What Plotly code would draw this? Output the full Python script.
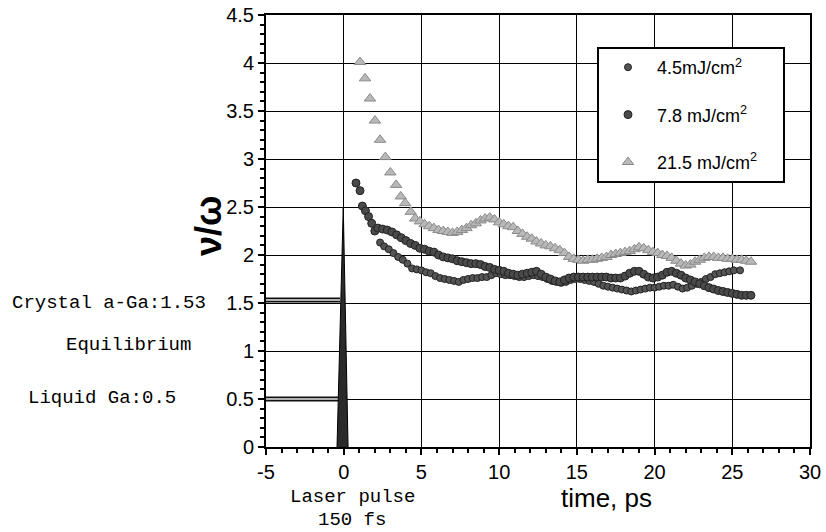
import plotly.graph_objects as go

# ---------------- data ----------------
t_215 = [1.05, 1.37, 1.69, 2.01, 2.34, 2.68, 3.00, 3.37, 3.67, 3.95, 4.31, 4.6, 4.9, 5.2, 5.5, 5.8,
         6.1, 6.4, 6.7, 7.0, 7.3, 7.6, 7.9, 8.2, 8.5, 8.8, 9.1, 9.4, 9.7, 10.0, 10.3, 10.6, 10.9,
         11.2, 11.5, 11.8, 12.1, 12.4, 12.7, 13.0, 13.3, 13.6, 13.9, 14.2, 14.5, 14.8, 15.1, 15.4,
         15.7, 16.0, 16.3, 16.6, 16.9, 17.2, 17.5, 17.8, 18.1, 18.4, 18.7, 19.0, 19.3, 19.6, 19.9,
         20.2, 20.5, 20.8, 21.1, 21.4, 21.7, 22.0, 22.3, 22.6, 22.9, 23.2, 23.5, 23.8, 24.1, 24.4,
         24.7, 25.0, 25.3, 25.6, 25.9, 26.2]
v_215 = [4.01, 3.84, 3.63, 3.40, 3.20, 3.02, 2.86, 2.73, 2.61, 2.54, 2.45, 2.38, 2.35, 2.32, 2.30, 2.28,
         2.26, 2.25, 2.24, 2.23, 2.24, 2.26, 2.28, 2.31, 2.33, 2.36, 2.38, 2.39, 2.37, 2.34, 2.32, 2.30, 2.29,
         2.25, 2.22, 2.19, 2.17, 2.14, 2.12, 2.10, 2.09, 2.07, 2.05, 2.02, 1.98, 1.96, 1.95, 1.94,
         1.95, 1.95, 1.96, 1.97, 1.98, 2.00, 2.01, 2.02, 2.03, 2.04, 2.06, 2.08, 2.07, 2.05, 2.03,
         2.02, 2.00, 1.99, 1.97, 1.94, 1.91, 1.89, 1.90, 1.93, 1.95, 1.97, 1.98, 1.98, 1.97, 1.97,
         1.96, 1.96, 1.95, 1.95, 1.94, 1.93]

t_78 = [0.79, 1.05, 1.20, 1.40, 1.60, 1.80, 2.00, 2.2, 2.5, 2.8, 3.1, 3.4, 3.7, 4.0, 4.3, 4.6, 4.9,
        5.2, 5.5, 5.8, 6.1, 6.4, 6.7, 7.0, 7.3, 7.6, 7.9, 8.2, 8.5, 8.8, 9.1, 9.4, 9.7, 10.0, 10.3,
        10.6, 10.9, 11.2, 11.5, 11.8, 12.1, 12.4, 12.7, 13.0, 13.3, 13.6, 13.9, 14.2, 14.5, 14.8,
        15.1, 15.4, 15.7, 16.0, 16.3, 16.6, 16.9, 17.2, 17.5, 17.8, 18.1, 18.4, 18.7, 19.0, 19.3,
        19.6, 19.9, 20.2, 20.5, 20.8, 21.1, 21.4, 21.7, 22.0, 22.3, 22.6, 22.9, 23.2, 23.5, 23.8,
        24.1, 24.4, 24.7, 25.0, 25.3, 25.6, 25.9, 26.2]
v_78 = [2.75, 2.67, 2.51, 2.46, 2.40, 2.33, 2.25, 2.28, 2.27, 2.26, 2.24, 2.21, 2.18, 2.15, 2.12, 2.10, 2.07,
        2.06, 2.04, 2.03, 2.00, 1.98, 1.97, 1.96, 1.94, 1.93, 1.92, 1.91, 1.91, 1.90, 1.88, 1.87, 1.85, 1.84, 1.83,
        1.81, 1.80, 1.79, 1.80, 1.81, 1.82, 1.83, 1.80, 1.77, 1.75, 1.73, 1.72, 1.74, 1.76, 1.77,
        1.77, 1.77, 1.77, 1.77, 1.77, 1.77, 1.77, 1.76, 1.76, 1.76, 1.78, 1.81, 1.83, 1.83, 1.80,
        1.77, 1.76, 1.77, 1.79, 1.82, 1.83, 1.81, 1.79, 1.76, 1.74, 1.72, 1.70, 1.68, 1.66, 1.645,
        1.63, 1.62, 1.61, 1.60, 1.59, 1.58, 1.58, 1.58]

t_45 = [2.34, 2.6, 2.9, 3.2, 3.5, 3.8, 4.1, 4.4, 4.7, 5.0, 5.3, 5.6, 5.9, 6.2, 6.5, 6.8, 7.1, 7.4,
        7.7, 8.0, 8.3, 8.6, 8.9, 9.2, 9.5, 9.8, 10.1, 10.4, 10.7, 11.0, 11.3, 11.6, 11.9, 12.2, 12.5,
        12.8, 13.1, 13.4, 13.7, 14.0, 14.3, 14.6, 14.9, 15.2, 15.5, 15.8, 16.1, 16.4, 16.7, 17.0,
        17.3, 17.6, 17.9, 18.2, 18.5, 18.8, 19.1, 19.4, 19.7, 20.0, 20.3, 20.6, 20.9, 21.2, 21.5,
        21.8, 22.1, 22.4, 22.7, 23.0, 23.3, 23.6, 23.9, 24.2, 24.5, 24.8, 25.1, 25.5]
v_45 = [2.13, 2.09, 2.06, 2.02, 1.98, 1.95, 1.91, 1.86, 1.85, 1.84, 1.82, 1.81, 1.78, 1.76, 1.75, 1.74, 1.73, 1.72,
        1.74, 1.75, 1.76, 1.76, 1.77, 1.77, 1.79, 1.81, 1.80, 1.79, 1.79, 1.78, 1.77, 1.77, 1.78, 1.79, 1.78,
        1.77, 1.75, 1.73, 1.72, 1.71, 1.72, 1.74, 1.75, 1.75, 1.74, 1.73, 1.72, 1.70, 1.68, 1.67,
        1.66, 1.65, 1.64, 1.63, 1.62, 1.63, 1.64, 1.65, 1.66, 1.66, 1.67, 1.68, 1.68, 1.69, 1.67,
        1.65, 1.66, 1.68, 1.70, 1.72, 1.75, 1.77, 1.80, 1.81, 1.82, 1.83, 1.84, 1.84]

pulse_t = [-0.43, -0.03, 0.28]
pulse_v = [0.0, 2.5, 0.0]

equil_t = [-5.0, -0.24]
equil_crystal = 1.53
equil_liquid = 0.5

legend_names = ["4.5mJ/cm<sup>2</sup>", "7.8 mJ/cm<sup>2</sup>", "21.5 mJ/cm<sup>2</sup>"]

x_ticks = [-5, 0, 5, 10, 15, 20, 25, 30]
x_tick_labels = ["-5", "0", "5", "10", "15", "20", "25", "30"]
y_ticks = [0, 0.5, 1, 1.5, 2, 2.5, 3, 3.5, 4, 4.5]
y_tick_labels = ["0", "0.5", "1", "1.5", "2", "2.5", "3", "3.5", "4", "4.5"]

# ---------------- figure ----------------
W, H = 826, 532
L, R, T, B = 266, 16, 15, 85
PW, PH = W - L - R, H - T - B

fig = go.Figure()

# equilibrium double lines
for val in (equil_crystal, equil_liquid):
    fig.add_trace(go.Scatter(x=equil_t, y=[val, val], mode="lines",
                             line=dict(color="#111111", width=5), showlegend=False, hoverinfo="skip"))
    fig.add_trace(go.Scatter(x=equil_t, y=[val, val], mode="lines",
                             line=dict(color="#e8e8e8", width=1.5), showlegend=False, hoverinfo="skip"))

# laser pulse
fig.add_trace(go.Scatter(x=pulse_t, y=pulse_v, mode="lines", fill="toself",
                         fillcolor="#2a2a2a", line=dict(color="#000000", width=1),
                         showlegend=False, hoverinfo="skip"))

pad = "&nbsp;" * 7
fig.add_trace(go.Scatter(x=t_45, y=v_45, mode="markers", name=legend_names[0] + pad, legendgroup="a",
                         marker=dict(symbol="circle", size=7, color="#555555",
                                     line=dict(color="#222222", width=1))))
fig.add_trace(go.Scatter(x=t_78, y=v_78, mode="markers", name=legend_names[1], legendgroup="b",
                         marker=dict(symbol="circle", size=8, color="#4a4a4a",
                                     line=dict(color="#222222", width=1))))
fig.add_trace(go.Scatter(x=t_215, y=v_215, mode="markers", name=legend_names[2], legendgroup="c",
                         marker=dict(symbol="triangle-up", size=10, color="#b8b8b8",
                                     line=dict(color="#8a8a8a", width=1))))

axis_common = dict(showline=True, linecolor="black", linewidth=2, mirror=True,
                   showgrid=True, gridcolor="black", gridwidth=1,
                   ticks="outside", ticklen=6, tickwidth=1.5, tickcolor="black",
                   tickfont=dict(family="Liberation Sans, Arial", size=20, color="black"),
                   zeroline=False, automargin=False)

fig.update_xaxes(range=[-5, 30], tickvals=x_ticks, ticktext=x_tick_labels, **axis_common,
                 minor=dict(dtick=1, ticks="outside", ticklen=4, tickcolor="black", showgrid=False))
fig.update_yaxes(range=[0, 4.5], tickvals=y_ticks, ticktext=y_tick_labels, **axis_common,
                 minor=dict(dtick=0.1, ticks="outside", ticklen=4, tickcolor="black", showgrid=False))


def px_x(p):
    return (p - L) / PW


def px_y(p):
    return (H - B - p) / PH


# axis titles
fig.add_annotation(text="<b>ν/ω</b>", xref="paper", yref="paper", x=px_x(208), y=px_y(226),
                   textangle=-90, showarrow=False, xanchor="center", yanchor="middle",
                   font=dict(family="Liberation Sans, Arial", size=36, color="black"))
fig.add_annotation(text="time, ps", xref="paper", yref="paper", x=px_x(606), y=px_y(498),
                   showarrow=False, xanchor="center", yanchor="middle",
                   font=dict(family="Liberation Sans, Arial", size=26, color="black"))

mono = dict(family="Liberation Mono, Courier New, monospace", size=19, color="black")
annots = [
    dict(text="Crystal a-Ga:1.53", x=10, y=303, xanchor="left"),
    dict(text="Equilibrium", x=128, y=345, xanchor="center"),
    dict(text="Liquid Ga:0.5", x=102, y=398, xanchor="center"),
    dict(text="Laser pulse", x=352, y=497, xanchor="center"),
    dict(text="150 fs", x=352, y=520, xanchor="center"),
]
for a in annots:
    fig.add_annotation(text=a["text"], xref="paper", yref="paper",
                       x=px_x(a["x"]), y=px_y(a["y"]),
                       xanchor=a["xanchor"], yanchor="middle", showarrow=False, font=mono)

fig.update_layout(
    width=W, height=H,
    margin=dict(l=L, r=R, t=T, b=B, autoexpand=False),
    paper_bgcolor="white", plot_bgcolor="white",
    font=dict(family="Liberation Sans, Arial", color="black"),
    legend=dict(x=px_x(597), y=px_y(47), xanchor="left", yanchor="top",
                bgcolor="white", bordercolor="black", borderwidth=2,
                font=dict(family="Liberation Sans, Arial", size=18, color="black"),
                tracegroupgap=21, itemsizing="trace", itemwidth=48),
    showlegend=True,
)

fig.write_html("out.html", config={"displayModeBar": False},
               post_script="document.body.style.margin='0';document.body.style.overflow='hidden';")
